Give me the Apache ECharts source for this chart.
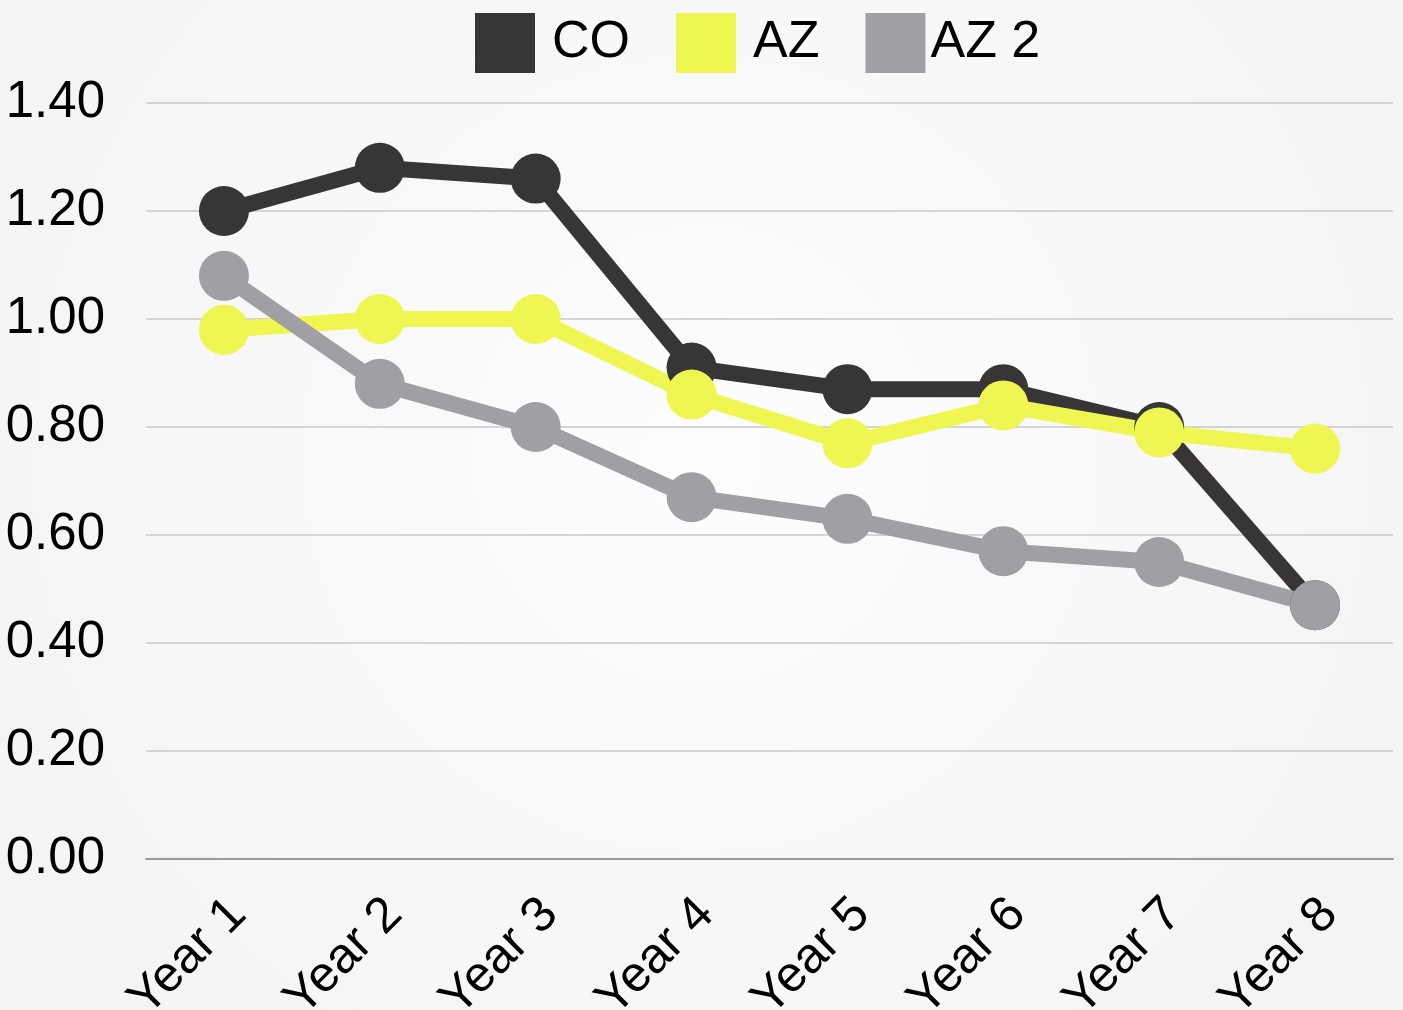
<!DOCTYPE html>
<html>
<head>
<meta charset="utf-8">
<script src="https://cdn.jsdelivr.net/npm/echarts@6/dist/echarts.min.js"></script>
<style>
  html, body { margin: 0; padding: 0; }
  #chart { width: 1403px; height: 1010px; }
</style>
</head>
<body>
<div id="chart"></div>
<script>
  // 数据
  var categories = ['Year 1', 'Year 2', 'Year 3', 'Year 4', 'Year 5', 'Year 6', 'Year 7', 'Year 8'];
  var coData = [1.20, 1.28, 1.26, 0.91, 0.87, 0.87, 0.80, 0.47];
  var azData = [0.98, 1.00, 1.00, 0.86, 0.77, 0.84, 0.79, 0.76];
  var az2Data = [1.08, 0.88, 0.80, 0.67, 0.63, 0.57, 0.55, 0.47];
  var seriesNames = ['CO', 'AZ', 'AZ 2'];
  var colors = ['#373536', '#eff551', '#a0a0a4'];

  var chart = echarts.init(document.getElementById('chart'));

  function lineSeries(name, data, color) {
    return {
      name: name,
      type: 'line',
      symbol: 'circle',
      symbolSize: 50,
      data: data,
      itemStyle: { color: color },
      lineStyle: { color: color, width: 16 },
      emphasis: { disabled: true }
    };
  }

  var option = {
    backgroundColor: {
      type: 'radial', x: 0.5, y: 0.45, r: 0.8,
      colorStops: [{ offset: 0, color: '#fdfdfd' }, { offset: 1, color: '#f4f4f5' }]
    },
    textStyle: { fontFamily: 'Liberation Sans' },
    color: colors,
    legend: {
      top: 13,
      left: 475,
      padding: 0,
      itemWidth: 60,
      itemHeight: 60,
      itemGap: 46,
      icon: 'rect',
      data: [
        { name: seriesNames[0] },
        { name: seriesNames[1] },
        { name: seriesNames[2], textStyle: { padding: [8, 0, 0, 0] } }
      ],
      textStyle: { color: '#000', fontSize: 52, fontFamily: 'Liberation Sans', padding: [8, 0, 0, 12] }
    },
    grid: { left: 146, right: 10, top: 103, bottom: 151, outerBoundsMode: 'none' },
    xAxis: {
      type: 'category',
      data: categories,
      boundaryGap: true,
      axisLine: { show: true, lineStyle: { color: '#999', width: 2 } },
      axisTick: { show: false },
      axisLabel: {
        rotate: 45,
        margin: 33,
        verticalAlign: 'top',
        lineHeight: 41,
        color: '#000',
        fontSize: 50,
        fontFamily: 'Liberation Sans'
      }
    },
    yAxis: {
      type: 'value',
      min: 0,
      max: 1.4,
      interval: 0.2,
      axisLine: { show: false },
      axisTick: { show: false },
      splitLine: { lineStyle: { color: '#c8c8c8', width: 1.5 } },
      axisLabel: {
        margin: 41,
        color: '#000',
        fontSize: 51,
        fontFamily: 'Liberation Sans',
        formatter: function (v) { return v.toFixed(2); }
      }
    },
    series: [
      lineSeries(seriesNames[0], coData, colors[0]),
      lineSeries(seriesNames[1], azData, colors[1]),
      lineSeries(seriesNames[2], az2Data, colors[2])
    ]
  };
  chart.setOption(option);
</script>
</body>
</html>
